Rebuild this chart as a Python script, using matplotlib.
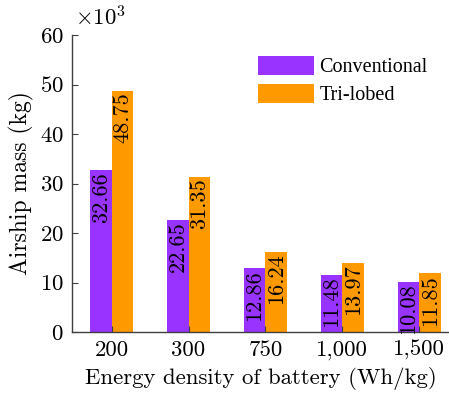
import numpy as np
import matplotlib
matplotlib.use("Agg")
import matplotlib.pyplot as plt

plt.rcParams['font.family'] = 'serif'
plt.rcParams['font.serif'] = ['cmr10']
plt.rcParams['mathtext.fontset'] = 'cm'
plt.rcParams['axes.formatter.use_mathtext'] = True

categories = ['200', '300', '750', '1,000', '1,500']
conventional = [32.66, 22.65, 12.86, 11.48, 10.08]
trilobed = [48.75, 31.35, 16.24, 13.97, 11.85]

purple = '#9933FF'
orange = '#FF9900'
fs = 16.4

fig = plt.figure(figsize=(4.49, 3.96), dpi=100)
ax = fig.add_axes([72/449, 64/396, 1 - 72/449, (332 - 35)/396])

x = np.arange(len(categories))
w = 0.28
b1 = ax.bar(x - w/2, conventional, w, color=purple, label='Conventional')
b2 = ax.bar(x + w/2, trilobed, w, color=orange, label='Tri-lobed')

for bars, vals in ((b1, conventional), (b2, trilobed)):
    for r, v in zip(bars, vals):
        ax.text(r.get_x() + r.get_width()/2, v - 0.3, f'{v:.2f}',
                rotation=90, ha='center', va='top', fontsize=16)

ax.set_xlim(-0.517, 4.39)
ax.set_ylim(0, 60)
ax.set_yticks(range(0, 61, 10))
ax.set_xticks(x)
ax.set_xticklabels(categories)
ax.tick_params(direction='in', length=4, width=0.8, color='#404040',
               labelsize=fs, pad=6)
for s in ('top', 'right'):
    ax.spines[s].set_visible(False)
for s in ('left', 'bottom'):
    ax.spines[s].set_color('#404040')
    ax.spines[s].set_linewidth(1.0)

ax.set_xlabel('Energy density of battery (Wh/kg)', fontsize=fs, labelpad=5)
ax.set_ylabel('Airship mass (kg)', fontsize=17, labelpad=4)
ax.annotate(r'$\times10^3$', xy=(0, 1), xycoords='axes fraction',
            xytext=(2, 4), textcoords='offset points',
            ha='left', va='bottom', fontsize=fs)

fig.legend(loc='upper left', bbox_to_anchor=(258/449, 1 - 56/396),
           frameon=False, borderpad=0, borderaxespad=0,
           prop={'family': 'Liberation Serif', 'size': 14.5},
           handlelength=2.8, handleheight=1.05, handletextpad=0.25,
           labelspacing=0.35)

fig.savefig('out.png', dpi=100)
